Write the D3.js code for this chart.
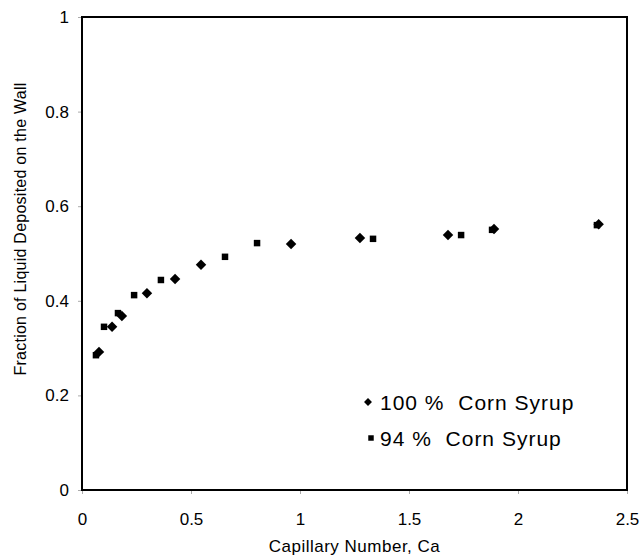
<!DOCTYPE html>
<html>
<head>
<meta charset="utf-8">
<script src="https://cdn.jsdelivr.net/npm/d3@7"></script>
<style>
  body { margin: 0; background: #fff; }
  text { font-family: "Liberation Sans", Arial, sans-serif; fill: #000; }
</style>
</head>
<body>
<script>
var caCorn100 = [0.078, 0.138, 0.183, 0.298, 0.427, 0.546, 0.959, 1.275, 1.679, 1.89, 2.37];
var fracCorn100 = [0.292, 0.345, 0.368, 0.416, 0.446, 0.476, 0.520, 0.533, 0.539, 0.552, 0.562];
var caCorn94 = [0.064, 0.101, 0.165, 0.239, 0.362, 0.656, 0.803, 1.335, 1.739, 1.881, 2.362];
var fracCorn94 = [0.285, 0.345, 0.374, 0.412, 0.444, 0.493, 0.522, 0.531, 0.539, 0.550, 0.560];
var xTicks = [0, 0.5, 1, 1.5, 2, 2.5];
var yTicks = [0, 0.2, 0.4, 0.6, 0.8, 1];
var seriesNames = ["100 %  Corn Syrup", "94 %  Corn Syrup"];

var W = 644, H = 556;
var margin = { top: 17, right: 17, bottom: 66, left: 82 };
var w = W - margin.left - margin.right,
    h = H - margin.top - margin.bottom;

var svg = d3.select("body").append("svg").attr("width", W).attr("height", H);
var g = svg.append("g").attr("transform", "translate(" + [margin.left, margin.top] + ")");

var x = d3.scaleLinear().domain([0, 2.5]).range([0, w]);
var y = d3.scaleLinear().domain([0, 1]).range([h, 0]);

var xAxis = g.append("g").attr("transform", "translate(0," + h + ")")
    .call(d3.axisBottom(x).tickValues(xTicks).tickSize(4).tickPadding(19).tickFormat(d3.format("")));
var yAxis = g.append("g")
    .call(d3.axisLeft(y).tickValues(yTicks).tickSize(4).tickPadding(9).tickFormat(d3.format("")));
[xAxis, yAxis].forEach(function (a) {
    a.select(".domain").remove();
    a.selectAll(".tick line").attr("stroke", "#aaa");
    a.selectAll("text").style("font-size", "17px").style("font-family", "Liberation Sans, Arial, sans-serif");
});

g.append("rect").attr("width", w).attr("height", h)
    .attr("fill", "none").attr("stroke", "#000").attr("stroke-width", 2);

var diamond = d3.symbol().type(d3.symbolDiamond2).size(70);
var square = d3.symbol().type(d3.symbolSquare).size(42);

g.selectAll(".s100").data(caCorn100).enter().append("path")
    .attr("class", "s100")
    .attr("d", diamond)
    .attr("transform", function (d, i) { return "translate(" + [x(d), y(fracCorn100[i])] + ")"; });

g.selectAll(".s94").data(caCorn94).enter().append("path")
    .attr("class", "s94")
    .attr("d", square)
    .attr("transform", function (d, i) { return "translate(" + [x(d), y(fracCorn94[i])] + ")"; });

// legend
var legend = g.append("g").attr("transform", "translate(" + (368 - margin.left) + "," + (402 - margin.top) + ")");
legend.append("path").attr("d", d3.symbol().type(d3.symbolDiamond2).size(40));
legend.append("text").attr("x", 12).attr("y", 8).style("font-size", "21px").style("letter-spacing", "1px")
    .style("white-space", "pre").text(seriesNames[0]);
legend.append("path").attr("transform", "translate(3,36)").attr("d", d3.symbol().type(d3.symbolSquare).size(30));
legend.append("text").attr("x", 12).attr("y", 44).style("font-size", "21px").style("letter-spacing", "1px")
    .style("white-space", "pre").text(seriesNames[1]);

svg.append("text").attr("x", margin.left + w / 2).attr("y", 552)
    .attr("text-anchor", "middle").style("font-size", "17px").style("letter-spacing", "0.5px")
    .text("Capillary Number, Ca");
svg.append("text").attr("transform", "translate(26,229) rotate(-90)")
    .attr("text-anchor", "middle").style("font-size", "16px").style("letter-spacing", "0.25px")
    .text("Fraction of Liquid Deposited on the Wall");
</script>
</body>
</html>
